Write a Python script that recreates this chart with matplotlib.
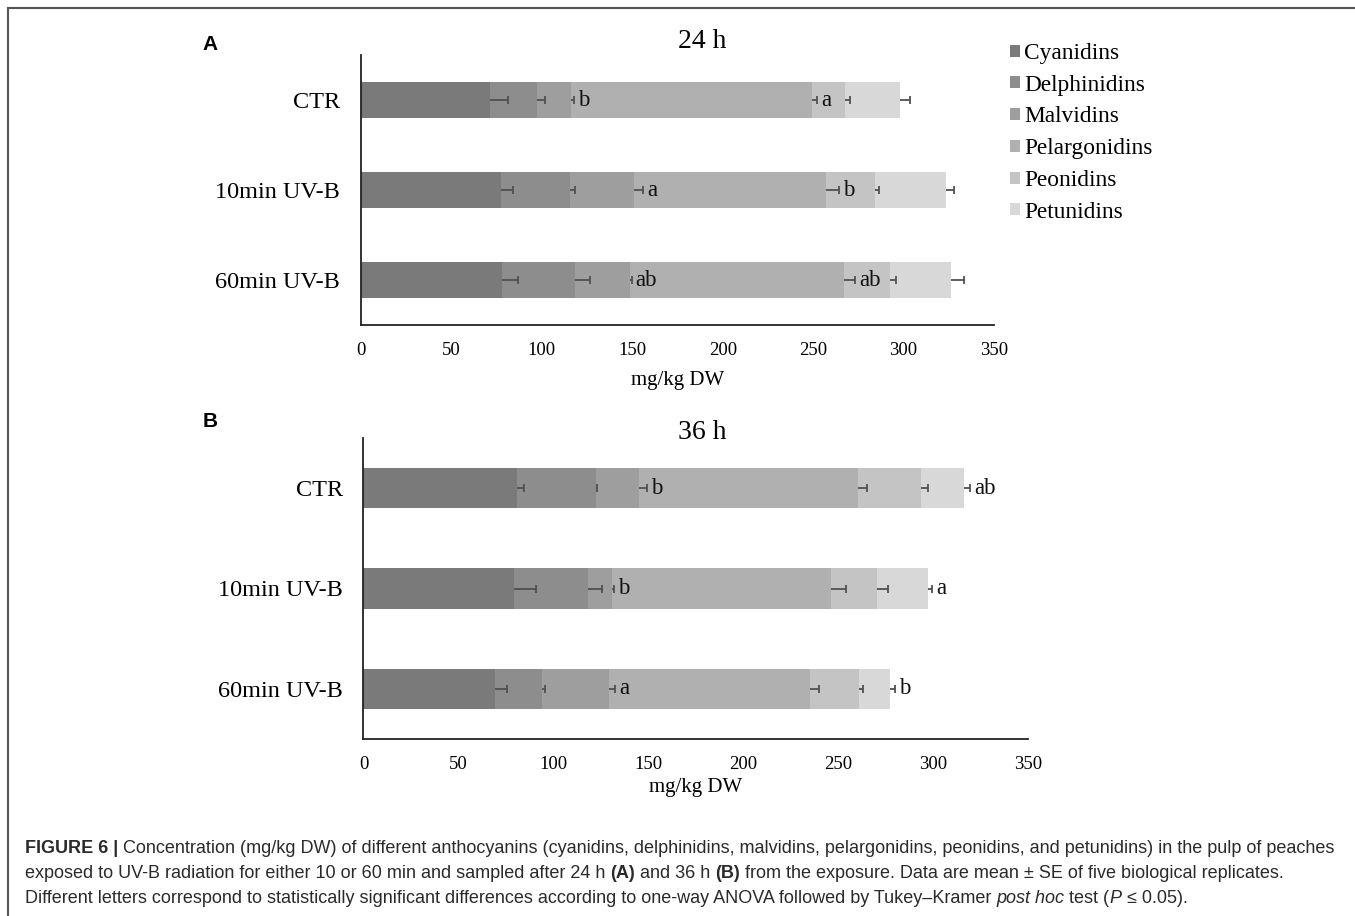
import numpy as np
import matplotlib
matplotlib.use("Agg")
import matplotlib.pyplot as plt
from matplotlib.lines import Line2D

plt.rcParams['font.family'] = ['Liberation Serif', 'DejaVu Serif']

W, H = 1355, 916

treatments = ["CTR", "10min UV-B", "60min UV-B"]
compounds = ["Cyanidins", "Delphinidins", "Malvidins", "Pelargonidins", "Peonidins", "Petunidins"]
colors = ["#7a7a7a", "#8d8d8d", "#9e9e9e", "#b0b0b0", "#c4c4c4", "#d8d8d8"]

# mg/kg DW, one row per compound (CTR, 10min, 60min)
conc_24h = [[71.1, 77.2, 77.9],
            [26.2, 38.2, 40.5],
            [19.0, 35.3, 30.1],
            [133.0, 106.2, 118.5],
            [18.5, 27.4, 25.5],
            [30.0, 39.1, 33.7]]
se_24h = [[10.3, 6.8, 9.0],
          [4.4, 3.1, 8.3],
          [1.5, 5.5, 1.1],
          [3.0, 7.4, 6.3],
          [2.6, 2.0, 3.5],
          [5.5, 4.4, 7.0]]

conc_36h = [[81.1, 79.5, 69.5],
            [41.3, 38.5, 24.7],
            [22.9, 12.7, 35.3],
            [115.1, 115.5, 105.8],
            [33.1, 24.4, 25.8],
            [22.7, 26.9, 16.4]]
se_36h = [[3.3, 11.1, 6.0],
          [0.5, 7.6, 1.3],
          [4.2, 1.0, 2.9],
          [4.7, 7.8, 4.7],
          [3.8, 5.5, 1.8],
          [3.3, 2.0, 2.4]]

# significance letters: (index of compound they follow, letters per treatment)
letters_24h = [(2, ["b", "a", "ab"]), (3, ["a", "b", "ab"])]
letters_36h = [(2, ["b", "b", "a"]), (5, ["ab", "a", "b"])]


def px_axes(left, top, right, bottom):
    return [left / W, 1 - bottom / H, (right - left) / W, (bottom - top) / H]


def draw_panel(ax, conc, se, marks, labelpad):
    y = np.arange(len(treatments))
    left = np.zeros(len(treatments))
    ends = []
    for i, name in enumerate(compounds):
        vals = np.array(conc[i])
        ax.barh(y, vals, left=left, height=0.4, color=colors[i], label=name, zorder=2)
        left = left + vals
        ends.append(left.copy())
    # plus-only error bars: line from the segment end, cap on the far side
    for i in range(len(compounds)):
        tips = ends[i] + np.array(se[i])
        ax.hlines(y, ends[i], tips, color='#505050', lw=1.3, zorder=3)
        ax.plot(tips, y, ls='none', marker='|', ms=5.5, mew=1.3, color='#505050', zorder=3)
    for idx, lts in marks:
        for j, lt in enumerate(lts):
            ax.annotate(lt, (ends[idx][j] + se[idx][j], y[j]), xytext=(3, 0),
                        textcoords='offset points', ha='left', va='center',
                        fontsize=16.5, color='#111111', zorder=4)
    ax.set_xlim(0, 350)
    ax.set_ylim(2.5, -0.5)
    ax.set_yticks(y)
    ax.set_yticklabels(treatments, fontsize=17.5)
    ax.set_xticks(np.arange(0, 351, 50))
    ax.tick_params(axis='x', length=0, pad=12, labelsize=13.5)
    ax.tick_params(axis='y', length=0, pad=15)
    ax.set_xlabel("mg/kg DW", fontsize=15, labelpad=labelpad)
    for s in ['top', 'right']:
        ax.spines[s].set_visible(False)
    for s in ['left', 'bottom']:
        ax.spines[s].set_linewidth(1.3)
        ax.spines[s].set_color('#222222')


fig = plt.figure(figsize=(W / 100, H / 100), dpi=100)

ax_a = fig.add_axes(px_axes(361, 55, 994, 325))
draw_panel(ax_a, conc_24h, se_24h, letters_24h, 9)
ax_b = fig.add_axes(px_axes(363.5, 438, 1028, 739))
draw_panel(ax_b, conc_36h, se_36h, letters_36h, 4)

fig.text(702 / W, 1 - 41 / H, "24 h", fontsize=20, ha='center', va='center')
fig.text(702 / W, 1 - 433 / H, "36 h", fontsize=20, ha='center', va='center')
fig.text(210 / W, 1 - 44 / H, "A", fontsize=15, fontweight='bold', family='Liberation Sans',
         ha='center', va='center')
fig.text(210 / W, 1 - 421 / H, "B", fontsize=15, fontweight='bold', family='Liberation Sans',
         ha='center', va='center')

handles, labels = ax_a.get_legend_handles_labels()
fig.legend(handles, labels, loc='upper left', bbox_to_anchor=(1010 / W, 1 - 43 / H),
           frameon=False, fontsize=16.8, handlelength=0.42, handleheight=0.42,
           handletextpad=0.2, labelspacing=0.46, borderaxespad=0, borderpad=0)

# frame around the figure
fig.add_artist(Line2D([8 / W, 1], [1 - 8 / H, 1 - 8 / H], transform=fig.transFigure,
                      color='#555555', lw=1.5))
fig.add_artist(Line2D([8 / W, 8 / W], [0, 1 - 8 / H], transform=fig.transFigure,
                      color='#555555', lw=1.5))

# caption, written run by run so bold/italic pieces sit inline
renderer = fig.canvas.get_renderer()


def text_width(s, **kw):
    t = fig.text(0, 0, s + "x", **kw)
    r = fig.text(0, 0, "x", **kw)
    w = t.get_window_extent(renderer).width - r.get_window_extent(renderer).width
    t.remove()
    r.remove()
    return w


def draw_runs(x_px, y_px, runs, size=13.0):
    for s, weight, style in runs:
        kw = dict(fontsize=size, fontweight=weight, fontstyle=style,
                  family='Liberation Sans', color='#2a2a2a')
        fig.text(x_px / W, 1 - y_px / H, s, va='baseline', ha='left', **kw)
        x_px += text_width(s, **kw)


cap1 = [("FIGURE 6 |", 'bold', 'normal'),
        (" Concentration (mg/kg DW) of different anthocyanins (cyanidins, delphinidins, malvidins, "
         "pelargonidins, peonidins, and petunidins) in the pulp of peaches", 'normal', 'normal')]
cap2 = [("exposed to UV-B radiation for either 10 or 60 min and sampled after 24 h ", 'normal', 'normal'),
        ("(A)", 'bold', 'normal'),
        (" and 36 h ", 'normal', 'normal'),
        ("(B)", 'bold', 'normal'),
        (" from the exposure. Data are mean \u00b1 SE of five biological replicates.", 'normal', 'normal')]
cap3 = [("Different letters correspond to statistically significant differences according to one-way "
         "ANOVA followed by Tukey\u2013Kramer ", 'normal', 'normal'),
        ("post hoc", 'normal', 'italic'),
        (" test (", 'normal', 'normal'),
        ("P", 'normal', 'italic'),
        (" \u2264 0.05).", 'normal', 'normal')]
draw_runs(25, 853, cap1)
draw_runs(25, 878, cap2)
draw_runs(25, 903, cap3)

fig.savefig("out.png", dpi=100)
